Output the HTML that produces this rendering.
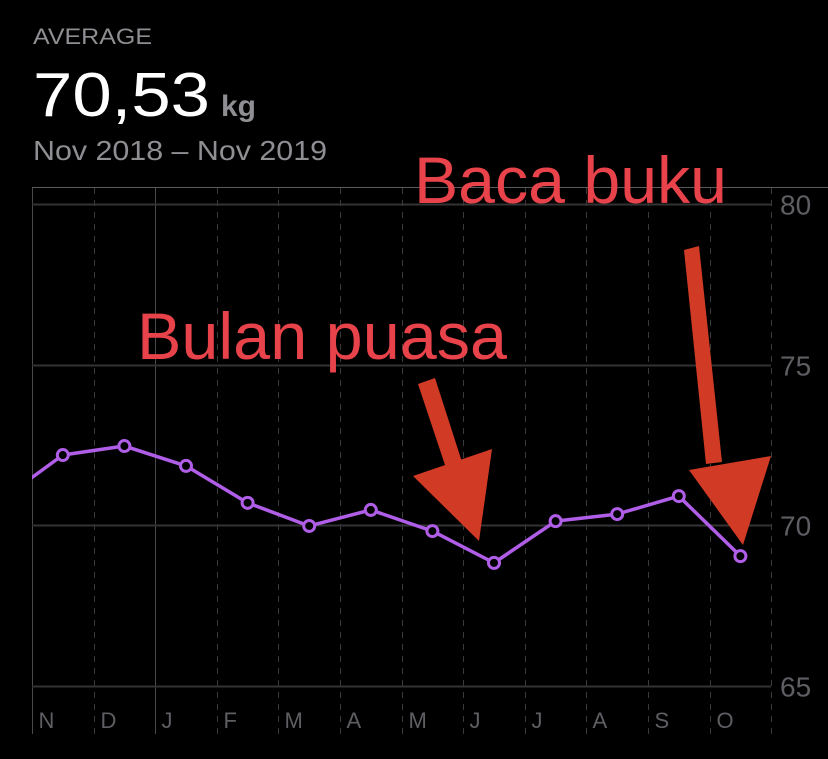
<!DOCTYPE html>
<html><head><meta charset="utf-8"><style>
body{margin:0;background:#000;width:828px;height:759px;overflow:hidden;font-family:"Liberation Sans",sans-serif}
</style></head><body>
<svg width="828" height="759" style="position:absolute;left:0;top:0">
<text x="33" y="44" fill="#8e8e93" font-size="22" textLength="119" lengthAdjust="spacingAndGlyphs">AVERAGE</text>
<text x="33" y="116" fill="#fff" font-size="62" textLength="177" lengthAdjust="spacingAndGlyphs">70,53</text>
<text x="221" y="116" fill="#8e8e93" font-size="30" font-weight="bold">kg</text>
<text x="33" y="160" fill="#8e8e93" font-size="28" textLength="294" lengthAdjust="spacingAndGlyphs">Nov 2018 – Nov 2019</text>
<line x1="32" y1="187.5" x2="828" y2="187.5" stroke="#5a5a5e" stroke-width="1"/>
<g id="grid"></g>
<g id="series"></g>
<text x="137" y="359" fill="#e8434a" font-size="66" textLength="370" lengthAdjust="spacingAndGlyphs">Bulan puasa</text>
<text x="414" y="203" fill="#e8434a" font-size="66" textLength="313" lengthAdjust="spacingAndGlyphs">Baca buku</text>
<polygon points="418,384 435,378 462,462 446,468" fill="#d13a24"/>
<polygon points="413,476 492,449 479,541" fill="#d13a24"/>
<polygon points="684,250 699,246 722,462 706,464" fill="#d13a24"/>
<polygon points="689,470 771,456 743,545" fill="#d13a24"/>
</svg>
<script>
const months=["N","D","J","F","M","A","M","J","J","A","S","O"];
const weights=[72.18,72.46,71.84,70.69,69.97,70.47,69.81,68.82,70.12,70.34,70.90,69.03];
const prevWeight=70.78;
const yTicks=[80,75,70,65];
const NS="http://www.w3.org/2000/svg";
const x0=32,step=61.6,plotRight=771;
const xPos=i=>x0+step*(i+0.5);
const yPos=v=>204+(80-v)*32.1;
const grid=document.getElementById('grid'),ser=document.getElementById('series');
function mk(t,a,p){const e=document.createElementNS(NS,t);for(const k in a)e.setAttribute(k,a[k]);p.appendChild(e);return e;}
for(let i=0;i<=months.length;i++){
  const x=Math.round(x0+step*i)+0.5;
  const solid=(i===0||i===2);
  const l=mk('line',{x1:x,y1:188,x2:x,y2:734,stroke:solid?'#4a4a4e':'#3a3a3c','stroke-width':1,'stroke-dasharray':solid?'':'6,6'},grid);
  
  
  if(i<months.length){
    const t=mk('text',{x:x+6,y:728,fill:'#5e5e63','font-size':22},grid);t.textContent=months[i];
    
    
  }
}
yTicks.forEach(v=>{
  const y=Math.round(yPos(v))+0.5;
  const l=mk('line',{x1:32,y1:y,x2:plotRight,y2:y,stroke:'#333336','stroke-width':2},grid);
  
  
  const t=mk('text',{x:780,y:y+10,fill:'#5e5e63','font-size':28},grid);t.textContent=v;
  
  
});
const pts=[[xPos(-1),yPos(prevWeight)]].concat(weights.map((w,i)=>[xPos(i),yPos(w)]));
mk('clipPath',{id:'clp'},ser);
mk('rect',{x:32,y:180,width:800,height:600},ser.lastChild);
const pl=mk('polyline',{points:pts.map(p=>p.join(',')).join(' '),fill:'none',stroke:'#b05ee8','stroke-width':3.5,'clip-path':'url(#clp)','stroke-linejoin':'round'},ser);


weights.forEach((w,i)=>{
  const c=mk('circle',{cx:xPos(i),cy:yPos(w),r:5.5,fill:'#000',stroke:'#b05ee8','stroke-width':3},ser);
  
  
});
</script>
</body></html>
